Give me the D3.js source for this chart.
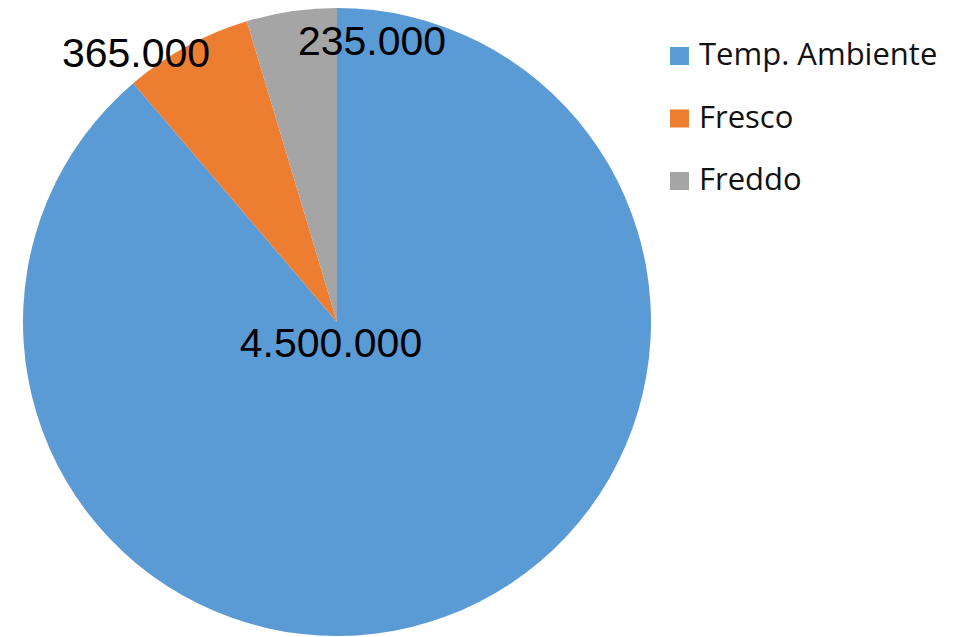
<!DOCTYPE html>
<html>
<head>
<meta charset="utf-8">
<script src="https://cdn.jsdelivr.net/npm/d3@7"></script>
<style>
  body { margin: 0; background: #fff; }
  svg { display: block; }
</style>
</head>
<body>
<svg width="960" height="637"></svg>
<script>
var categories = ["Temp. Ambiente", "Fresco", "Freddo"];
// slice sizes as drawn in the picture (the Fresco wedge is drawn smaller than its label says)
var values = [4500000, 335000, 235000];
var valueLabels = ["4.500.000", "365.000", "235.000"];
var colors = ["#5b9bd5", "#ed7d31", "#a5a5a5"];

var width = 960, height = 637;
var cx = 337, cy = 322, radius = 314;

// where each data label sits, as offset from pie centre (layout only)
var labelOffsets = [[-6, 35], [-201, -255], [35, -267]];

var svg = d3.select("svg");

var pie = d3.pie().sort(null).value(function(d) { return d; });
var arc = d3.arc().innerRadius(0).outerRadius(radius);

var g = svg.append("g").attr("transform", "translate(" + cx + "," + cy + ")");

g.selectAll("path")
  .data(pie(values)).enter()
  .append("path")
  .attr("d", arc)
  .attr("fill", function(d, i) { return colors[i]; });

g.selectAll("text.lbl")
  .data(valueLabels).enter()
  .append("text")
  .attr("class", "lbl")
  .attr("x", function(d, i) { return labelOffsets[i][0]; })
  .attr("y", function(d, i) { return labelOffsets[i][1]; })
  .attr("text-anchor", "middle")
  .style("font-family", "'Liberation Sans', Arial, sans-serif")
  .style("font-size", "41px")
  .style("fill", "#000")
  .text(function(d) { return d; });

// legend
var legend = svg.append("g").attr("transform", "translate(670, 47)");
var items = legend.selectAll("g")
  .data(categories).enter()
  .append("g")
  .attr("transform", function(d, i) { return "translate(0," + (i * 62.5) + ")"; });

items.append("rect")
  .attr("width", 19)
  .attr("height", 18)
  .attr("fill", function(d, i) { return colors[i]; });

items.append("text")
  .attr("x", 29)
  .attr("y", 18)
  .style("font-family", "'Open Sans', sans-serif")
  .style("font-size", "31px")
  .style("fill", "#111")
  .text(function(d) { return d; });
</script>
</body>
</html>
